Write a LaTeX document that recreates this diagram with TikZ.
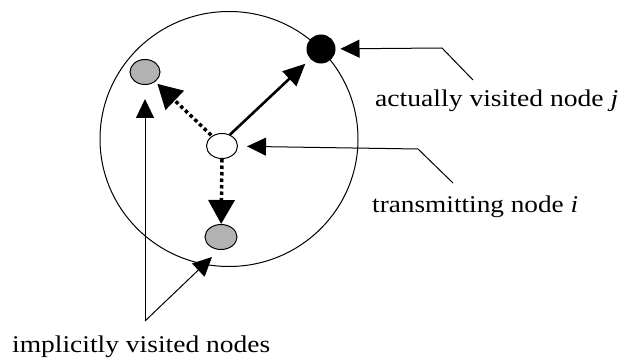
\documentclass[tikz,border=0pt]{standalone}
\usepackage{fontspec}
\setmainfont{Liberation Serif}
\usetikzlibrary{arrows.meta,shapes.geometric}
\begin{document}
\begin{tikzpicture}[x=1pt,y=-1pt,
  pointer/.style={draw=black,line width=1pt,-{Triangle[length=19pt,width=18pt]}},
  solidarrow/.style={draw=black,line width=2.6pt,-{Triangle[length=22pt,width=20pt]}},
  dotarrow/.style={draw=black,line width=3.5pt,dash pattern=on 3.5pt off 3pt,-{Triangle[length=24pt,width=26pt]}},
  netnode/.style={ellipse,draw=black,line width=1pt,minimum width=31pt,minimum height=25pt,inner sep=0pt},
  lbl/.style={font=\fontsize{24}{26}\selectfont,inner sep=0pt,anchor=base west}]
\useasboundingbox (0,0) rectangle (623,358);
\node[ellipse,draw=black,line width=1pt,minimum width=258pt,minimum height=255pt,inner sep=0pt] (range) at (229,139) {};
\node[netnode,fill=black,minimum width=28pt,minimum height=28pt] (j) at (321,49) {};
\node[netnode,fill=white] (i) at (222,146) {};
\node[netnode,fill={rgb,255:red,178;green,178;blue,178},minimum width=30pt] (g1) at (145,72) {};
\node[netnode,fill={rgb,255:red,178;green,178;blue,178},minimum width=32pt] (g2) at (221,237) {};
\draw[solidarrow,shorten >=7pt] (i.55) -- (j);
\draw[dotarrow,shorten >=3pt,shorten <=1pt] (i.135) -- (g1);
\draw[dotarrow,shorten >=0pt] (i.south) -- (g2);
\node[lbl] (lj) at (375,107) {\resizebox{243pt}{\height}{actually visited node \textit{j}}};
\node[lbl] (li) at (372,212) {\resizebox{206pt}{\height}{transmitting node \textit{i}}};
\node[lbl] (lg) at (12,352) {\resizebox{258pt}{\height}{implicitly visited nodes}};
\coordinate (jl) at (473,80);
\coordinate (jb) at (442,48);
\coordinate (il) at (453,183);
\coordinate (ib) at (418,149);
\coordinate (apex) at (145,321);
\coordinate (gt) at (212,257);
\draw[pointer,shorten >=5pt] (jl) -- (jb) -- (j);
\draw[pointer,shorten >=9pt] (il) -- (ib) -- (i);
\draw[pointer,shorten >=14pt] (apex) -- (g1);
\draw[pointer] (apex) -- (gt);
\end{tikzpicture}
\end{document}
